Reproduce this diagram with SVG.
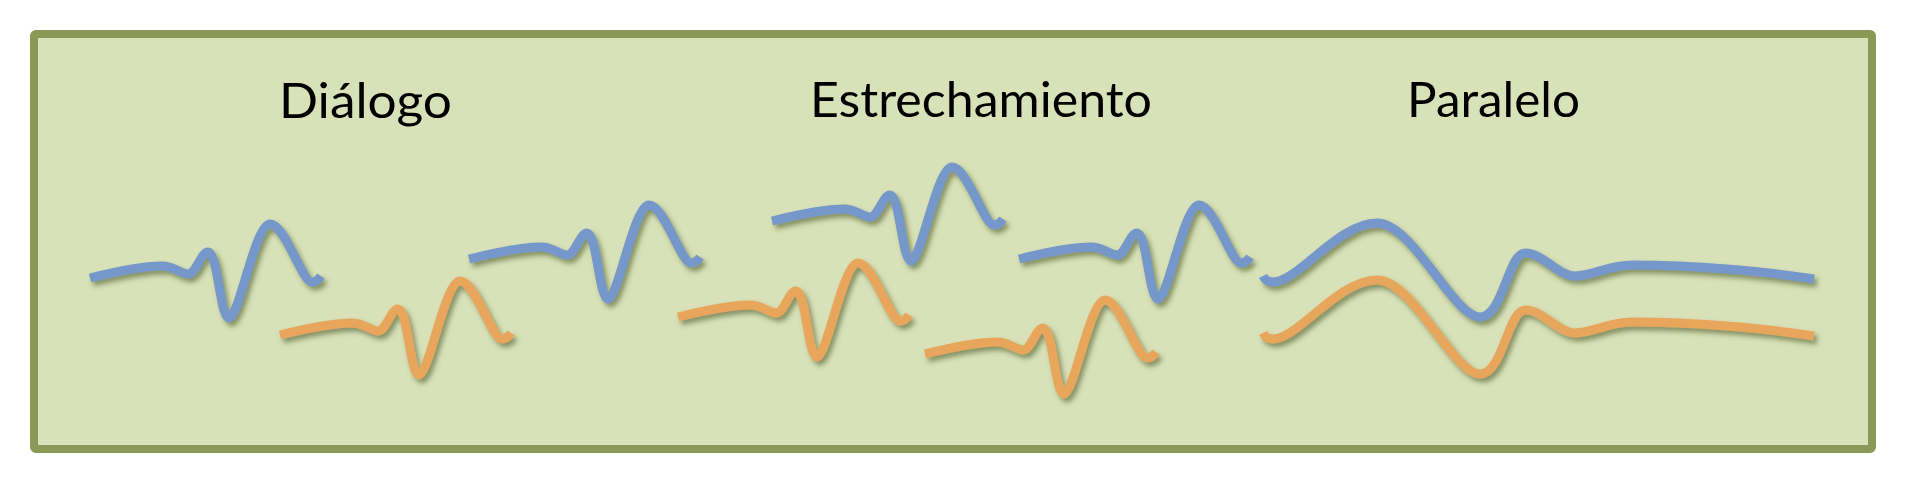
<svg xmlns="http://www.w3.org/2000/svg" xmlns:xlink="http://www.w3.org/1999/xlink" width="1909" height="488" viewBox="0 0 1909 488">
<style>
.lbl{font-family:Lato,"Noto Sans","Liberation Sans",sans-serif;font-size:48px;fill:#000}
.blue{fill:none;stroke:#7497C9;stroke-width:9;stroke-linecap:butt;stroke-linejoin:round;filter:url(#sh)}
.orange{fill:none;stroke:#E8A55C;stroke-width:9;stroke-linecap:butt;stroke-linejoin:round;filter:url(#sh)}
</style>
<defs>
<filter id="sh" x="-10%" y="-30%" width="120%" height="160%">
<feDropShadow dx="3" dy="4" stdDeviation="2.5" flood-color="#4f5d2a" flood-opacity="0.6"/>
</filter>
<path id="w" d="M0,0 C20,-5 50,-12 72,-12 C84,-12 91,-4 98,-4 C106,-4 111,-26 118,-26 C128,-26 130,40 139,40 C149,40 165,-54 180,-54 C195,-54 212,4 222,4 C226,4 229,1 231,-2"/>
<path id="p" d="M0,0 C2,4 5,6 10,6 C35,6 75,-53 114,-53 C150,-53 190,41 217,41 C240,41 245,-23 262,-23 C280,-23 295,0 312,0 C330,0 345,-11 370,-11 C430,-11 500,-5 551,3"/>
</defs>
<rect id="frame" x="34" y="34" width="1838" height="415" rx="2" fill="#D8E1B7" stroke="#8A9858" stroke-width="8"/>
<g id="titles">
<text class="lbl" x="279" y="118" textLength="173" lengthAdjust="spacingAndGlyphs">Diálogo</text>
<text class="lbl" x="810" y="117" textLength="342" lengthAdjust="spacingAndGlyphs">Estrechamiento</text>
<text class="lbl" x="1407" y="117" textLength="173" lengthAdjust="spacingAndGlyphs">Paralelo</text>
</g>
<g id="dialogo">
<use xlink:href="#w" class="blue" transform="translate(90,278)"/>
<use xlink:href="#w" class="orange" transform="translate(280,335)"/>
<use xlink:href="#w" class="blue" transform="translate(469,259)"/>
</g>
<g id="estrechamiento">
<use xlink:href="#w" class="blue" transform="translate(772,221)"/>
<use xlink:href="#w" class="orange" transform="translate(678,317)"/>
<use xlink:href="#w" class="blue" transform="translate(1019,259)"/>
<use xlink:href="#w" class="orange" transform="translate(925,354)"/>
</g>
<g id="paralelo">
<use xlink:href="#p" class="blue" transform="translate(1263,276)"/>
<use xlink:href="#p" class="orange" transform="translate(1263,333)"/>
</g>
</svg>
